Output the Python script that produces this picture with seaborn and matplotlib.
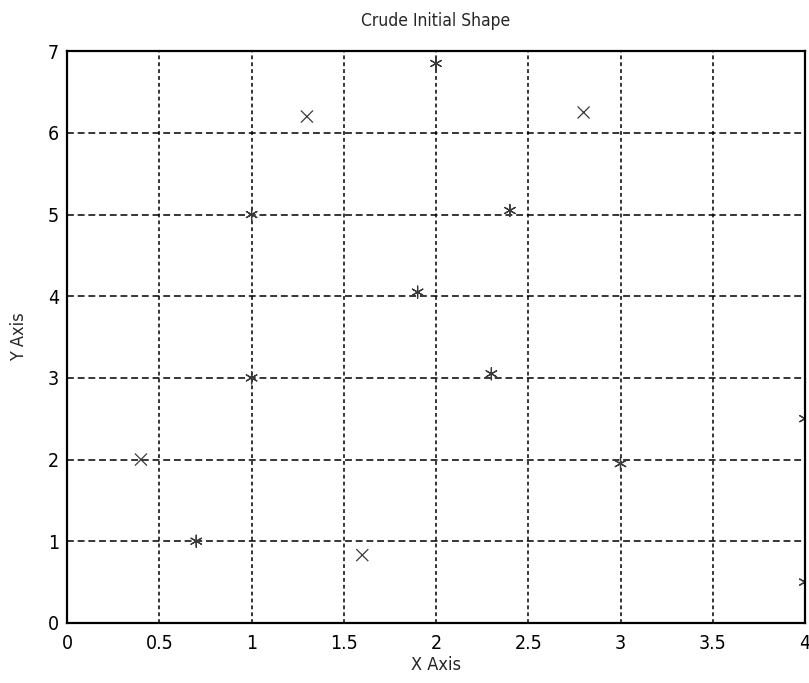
import seaborn as sns
import matplotlib.pyplot as plt
import pandas as pd

# points
x_star = [0.7, 1.0, 1.0, 1.9, 2.0, 2.3, 2.4, 3.0, 4.0, 4.0]
y_star = [1.0, 3.0, 5.0, 4.05, 6.85, 3.05, 5.05, 1.95, 2.5, 0.5]
x_cross = [0.4, 1.3, 1.6, 2.8]
y_cross = [2.0, 6.2, 0.83, 6.25]

x_ticks = [0, 0.5, 1, 1.5, 2, 2.5, 3, 3.5, 4]
x_tick_labels = ['0', '0.5', '1', '1.5', '2', '2.5', '3', '3.5', '4']
y_ticks = [0, 1, 2, 3, 4, 5, 6, 7]

df = pd.DataFrame({
    'x': x_star + x_cross,
    'y': y_star + y_cross,
    'kind': ['star'] * len(x_star) + ['cross'] * len(x_cross),
})

sns.set_style('white')
plt.rcParams['font.family'] = ['DejaVu Sans']
plt.rcParams['font.stretch'] = 'condensed'

fig = plt.figure(figsize=(8.09, 6.83), dpi=100)
ax = fig.add_axes([0.083, 0.088, 0.912, 0.837])

sns.scatterplot(data=df, x='x', y='y', style='kind',
                markers={'star': (6, 2, 0), 'cross': 'x'},
                color='#3a3a3a', s=75, linewidth=0.9, legend=False, ax=ax)

ax.set_xlim(0, 4)
ax.set_ylim(0, 7)
ax.set_xticks(x_ticks)
ax.set_xticklabels(x_tick_labels)
ax.set_yticks(y_ticks)
ax.xaxis.grid(True, color='black', linestyle=(0, (2.5, 2)), linewidth=1.1)
ax.yaxis.grid(True, color='black', linestyle=(0, (4.5, 2.5)), linewidth=1.1)
ax.tick_params(direction='in', length=7, width=1, colors='black',
               labelsize=14, top=False, right=False)
ax.tick_params(axis='x', pad=8)
ax.tick_params(axis='y', pad=6)
for s in ax.spines.values():
    s.set_color('black')
    s.set_linewidth(1.6)

ax.set_title('Crude Initial Shape', fontsize=12.5, pad=18)
ax.set_xlabel('X Axis', fontsize=13, labelpad=2)
ax.set_ylabel('Y Axis', fontsize=13, labelpad=14)

fig.savefig('out.png', dpi=100)
